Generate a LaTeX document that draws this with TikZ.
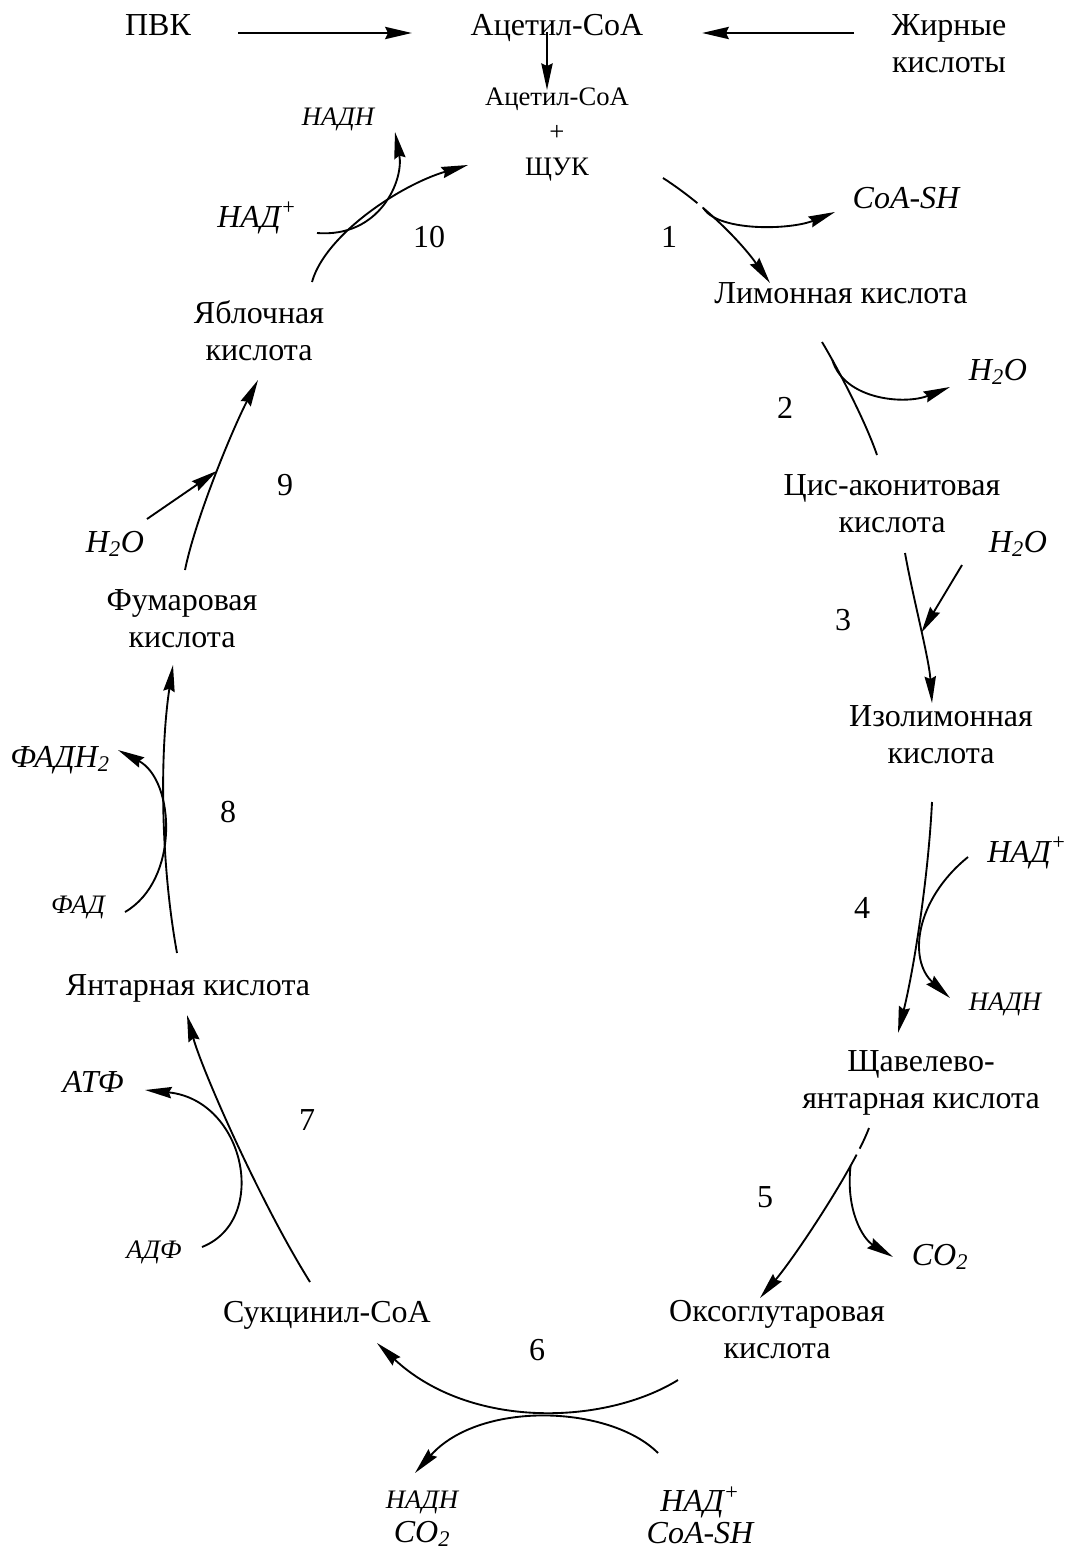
\documentclass[tikz,border=0pt]{standalone}
\usepackage{fontspec}
\setmainfont{Liberation Serif}
\usetikzlibrary{arrows.meta}

\tikzset{
  met/.style={anchor=base, inner sep=0pt, align=center, font=\fontsize{24}{27.6}\selectfont},
  metsm/.style={met, font=\fontsize{20}{25.9}\selectfont},
  agt/.style={met, font=\fontsize{24}{27.6}\selectfont\itshape},
  agtsm/.style={met, font=\fontsize{20}{24}\selectfont\itshape},
  stepno/.style={met},
  rxnline/.style={line width=1.4pt},
  rxn/.style={rxnline, -{Stealth[length=20pt,width=8.5pt,inset=2pt]}},
  feed/.style={line width=2.2pt, -{Stealth[length=20pt,width=9pt,inset=2pt]}}
}

\begin{document}
\begin{tikzpicture}[x=0.75pt, y=-0.75pt]
  \useasboundingbox (0,0) rectangle (1067,1553);

  \node[met] (pvk) at (158,35) {ПВК};
  \node[met] (acet) at (557,35) {Ацетил-СоА};
  \node[met] (fat) at (949,72) {Жирные\\кислоты};
  \node[metsm] (grp) at (557,175) {Ацетил-СоА\\+\\ЩУК};

  \node[met] (lim) at (841,303) {Лимонная кислота};
  \node[met] (cis) at (892,532) {Цис-аконитовая\\кислота};
  \node[met] (iso) at (941,763) {Изолимонная\\кислота};
  \node[met] (osa) at (921,1108) {Щавелево-\\янтарная кислота};
  \node[met] (okg) at (777,1358) {Оксоглутаровая\\кислота};
  \node[met] (suc) at (327,1322) {Сукцинил-СоА};
  \node[met] (yant) at (188,995) {Янтарная кислота};
  \node[met] (fum) at (182,647) {Фумаровая\\кислота};
  \node[met] (yab) at (259,360) {Яблочная\\кислота};

  \node[agt] (coash) at (906,208) {CoA-SH};
  \node[agt] (h2oA) at (998,380) {H\textsubscript{2}O};
  \node[agt] (h2oB) at (1018,552) {H\textsubscript{2}O};
  \node[agt] (nadB) at (1027,862) {НАД\textsuperscript{+}};
  \node[agtsm] (nadhB) at (1005,1010) {НАДН};
  \node[agt] (co2A) at (940,1265) {CO\textsubscript{2}};
  \node[agt, font=\fontsize{24}{25.5}\selectfont\itshape] (prodC) at (422,1542) {{\fontsize{20}{25.5}\selectfont НАДН}\\CO\textsubscript{2}};
  \node[agt, font=\fontsize{24}{23.3}\selectfont\itshape] (subC) at (700,1543) {НАД\textsuperscript{+}\\CoA-SH};
  \node[agt] (atf) at (93,1092) {АТФ};
  \node[agtsm] (adf) at (154,1258) {АДФ};
  \node[agt] (fadh) at (60,767) {ФАДН\textsubscript{2}};
  \node[agtsm] (fad) at (78,913) {ФАД};
  \node[agt] (h2oC) at (115,552) {H\textsubscript{2}O};
  \node[agt] (nadA) at (257,227) {НАД\textsuperscript{+}};
  \node[agtsm] (nadhA) at (338,125) {НАДН};

  \node[stepno] (n1) at (669,247) {1};
  \node[stepno] (n2) at (785,418) {2};
  \node[stepno] (n3) at (843,630) {3};
  \node[stepno] (n4) at (862,918) {4};
  \node[stepno] (n5) at (765,1207) {5};
  \node[stepno] (n6) at (537,1360) {6};
  \node[stepno] (n7) at (307,1130) {7};
  \node[stepno] (n8) at (228,822) {8};
  \node[stepno] (n9) at (285,495) {9};
  \node[stepno] (n10) at (429,247) {10};

  \draw[feed] ([shift={(80,-2)}]pvk.base) -- ([shift={(-145,-2)}]acet.base);
  \draw[feed] ([shift={(-95,-39)}]fat.base) -- ([shift={(145,-2)}]acet.base);
  \draw[rxn] ([shift={(-10,-3)}]acet.base) -- ([shift={(-10,-85)}]grp.base);

  \draw[rxn, dash pattern=on 32pt off 5pt on 300pt] ([shift={(106,3)}]grp.base) .. controls +(42,27) and +(-29,-41) .. coordinate[pos=.34] (j1) ([shift={(-71,-20)}]lim.base);
  \draw[rxn] (j1) .. controls +(16,23) and +(-45,18) .. ([shift={(-71,4)}]coash.base);

  \draw[rxnline] ([shift={(-19,39)}]lim.base) .. controls +(15,25) and +(-12,-35) .. coordinate[pos=.2] (j2) ([shift={(-15,-77)}]cis.base);
  \draw[rxn] (j2) .. controls +(12,40) and +(-45,18) .. ([shift={(-48,7)}]h2oA.base);

  \draw[rxn] ([shift={(13,21)}]cis.base) .. controls +(8,45) and +(-3,-45) .. coordinate[pos=.53] (j3) ([shift={(-9,-60)}]iso.base);
  \draw[rxn] ([shift={(-56,13)}]h2oB.base) -- (j3);

  \draw[rxn] ([shift={(-9,39)}]iso.base) .. controls +(-4,80) and +(15,-60) .. ([shift={(-23,-75)}]osa.base);
  \draw[rxn] ([shift={(-59,-5)}]nadB.base) .. controls +(-53,43) and +(-42,-38) .. ([shift={(-55,-12)}]nadhB.base);

  \draw[rxn, dash pattern=on 17pt off 5pt on 300pt] ([shift={(-52,20)}]osa.base) .. controls +(-15,40) and +(35,-41) .. coordinate[pos=.25] (j5) ([shift={(-17,-60)}]okg.base);
  \draw[rxn] (j5) .. controls +(-5,45) and +(-30,-18) .. ([shift={(-47,-8)}]co2A.base);

  \draw[rxn] ([shift={(-99,22)}]okg.base) .. controls +(-73,45) and +(93,87) .. ([shift={(50,21)}]suc.base);
  \draw[rxn] ([shift={(-42,-90)}]subC.base) .. controls +(-48,-48) and +(65,-73) .. ([shift={(-7,-69)}]prodC.base);

  \draw[rxn] ([shift={(-17,-40)}]suc.base) .. controls +(-50,-80) and +(15,55) .. ([shift={(-1,20)}]yant.base);
  \draw[rxn] ([shift={(48,-11)}]adf.base) .. controls +(68,-27) and +(100,10) .. ([shift={(52,-2)}]atf.base);

  \draw[rxn] ([shift={(-11,-42)}]yant.base) .. controls +(-17,-93) and +(-13,85) .. ([shift={(-9,18)}]fum.base);
  \draw[rxn] ([shift={(47,-1)}]fad.base) .. controls +(55,-32) and +(57,30) .. ([shift={(58,-17)}]fadh.base);

  \draw[rxn] ([shift={(3,-77)}]fum.base) .. controls +(10,-50) and +(-26,50) .. coordinate[pos=.52] (j9) ([shift={(-1,20)}]yab.base);
  \draw[rxn] ([shift={(32,-33)}]h2oC.base) -- (j9);

  \draw[rxn] ([shift={(53,-78)}]yab.base) .. controls +(13,-47) and +(-68,20) .. ([shift={(-89,-10)}]grp.base);
  \draw[rxn] ([shift={(60,6)}]nadA.base) .. controls +(63,5) and +(9,48) .. ([shift={(57,7)}]nadhA.base);
\end{tikzpicture}
\end{document}
